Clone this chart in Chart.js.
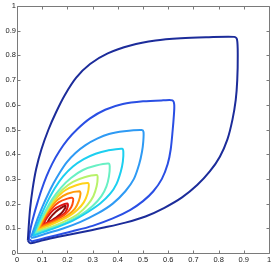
<!DOCTYPE html>
<html>
<head>
<meta charset="utf-8">
<script src="https://cdn.jsdelivr.net/npm/chart.js@4/dist/chart.umd.min.js"></script>
<style>
  body { margin: 0; background: #fff; }
  canvas { display: block; }
</style>
</head>
<body>
<canvas id="contornos" width="273" height="273"></canvas>
<script>
// niveles de contorno, de afuera hacia adentro (cada uno: tramo superior y luego tramo derecho)
const c1x = [0.043, 0.046, 0.052, 0.062, 0.076, 0.097, 0.125, 0.155, 0.190, 0.235, 0.290, 0.360, 0.450, 0.550, 0.650, 0.750, 0.862,
             0.873, 0.876, 0.874, 0.868, 0.855, 0.835, 0.805, 0.765, 0.715, 0.655, 0.585, 0.510, 0.430, 0.350, 0.270, 0.190, 0.120, 0.075, 0.052, 0.043];
const c1y = [0.050, 0.100, 0.180, 0.260, 0.340, 0.420, 0.500, 0.570, 0.640, 0.710, 0.765, 0.808, 0.840, 0.860, 0.869, 0.873, 0.875,
             0.865, 0.800, 0.700, 0.620, 0.540, 0.460, 0.390, 0.330, 0.275, 0.225, 0.183, 0.148, 0.123, 0.104, 0.087, 0.071, 0.056, 0.044, 0.040, 0.050];

const c2x = [0.047, 0.054, 0.066, 0.080, 0.097, 0.117, 0.140, 0.168, 0.200, 0.240, 0.290, 0.350, 0.420, 0.500, 0.580, 0.617,
             0.624, 0.622, 0.618, 0.610, 0.598, 0.575, 0.541, 0.500, 0.450, 0.380, 0.300, 0.220, 0.140, 0.090, 0.060, 0.047];
const c2y = [0.056, 0.100, 0.150, 0.200, 0.255, 0.310, 0.362, 0.412, 0.458, 0.502, 0.545, 0.580, 0.603, 0.614, 0.618, 0.618,
             0.600, 0.550, 0.500, 0.420, 0.360, 0.300, 0.250, 0.210, 0.175, 0.140, 0.110, 0.088, 0.068, 0.055, 0.048, 0.056];

const c3x = [0.055, 0.068, 0.084, 0.102, 0.122, 0.145, 0.170, 0.198, 0.232, 0.272, 0.318, 0.365, 0.425, 0.495,
             0.502, 0.501, 0.496, 0.485, 0.464, 0.430, 0.380, 0.320, 0.250, 0.180, 0.120, 0.080, 0.060, 0.055];
const c3y = [0.062, 0.100, 0.145, 0.190, 0.235, 0.282, 0.326, 0.368, 0.405, 0.437, 0.463, 0.482, 0.493, 0.498,
             0.490, 0.450, 0.410, 0.360, 0.300, 0.250, 0.200, 0.160, 0.125, 0.098, 0.080, 0.067, 0.062, 0.062];

const c4x = [0.062, 0.078, 0.098, 0.122, 0.150, 0.183, 0.222, 0.265, 0.312, 0.360, 0.417,
             0.422, 0.420, 0.412, 0.395, 0.370, 0.330, 0.280, 0.220, 0.160, 0.110, 0.080, 0.065, 0.062];
const c4y = [0.068, 0.110, 0.158, 0.210, 0.262, 0.310, 0.350, 0.380, 0.402, 0.415, 0.422,
             0.410, 0.370, 0.330, 0.280, 0.240, 0.200, 0.165, 0.130, 0.105, 0.087, 0.076, 0.070, 0.068];

const c5x = [0.068, 0.088, 0.112, 0.140, 0.174, 0.214, 0.262, 0.314, 0.363,
             0.368, 0.365, 0.355, 0.335, 0.300, 0.255, 0.200, 0.150, 0.105, 0.080, 0.068];
const c5y = [0.075, 0.120, 0.168, 0.218, 0.264, 0.304, 0.336, 0.354, 0.362,
             0.350, 0.310, 0.270, 0.230, 0.190, 0.155, 0.125, 0.105, 0.090, 0.082, 0.075];

const c6x = [0.073, 0.094, 0.118, 0.147, 0.181, 0.222, 0.268, 0.316,
             0.320, 0.316, 0.303, 0.280, 0.245, 0.200, 0.155, 0.110, 0.085, 0.073];
const c6y = [0.082, 0.128, 0.173, 0.218, 0.257, 0.288, 0.307, 0.316,
             0.305, 0.270, 0.230, 0.195, 0.160, 0.133, 0.113, 0.097, 0.089, 0.082];

const c7x = [0.080, 0.100, 0.125, 0.155, 0.190, 0.235, 0.281,
             0.285, 0.280, 0.265, 0.240, 0.205, 0.165, 0.125, 0.095, 0.080];
const c7y = [0.090, 0.135, 0.180, 0.220, 0.253, 0.274, 0.283,
             0.272, 0.240, 0.205, 0.175, 0.148, 0.128, 0.110, 0.098, 0.090];

const c8x = [0.088, 0.105, 0.130, 0.160, 0.200, 0.248,
             0.252, 0.245, 0.230, 0.200, 0.165, 0.130, 0.100, 0.088];
const c8y = [0.098, 0.140, 0.180, 0.215, 0.240, 0.250,
             0.240, 0.210, 0.180, 0.152, 0.133, 0.118, 0.105, 0.098];

const c9x = [0.095, 0.110, 0.135, 0.165, 0.200, 0.220,
             0.223, 0.215, 0.195, 0.165, 0.135, 0.105, 0.095];
const c9y = [0.105, 0.140, 0.177, 0.205, 0.220, 0.223,
             0.212, 0.185, 0.160, 0.140, 0.125, 0.112, 0.105];

const c10x = [0.103, 0.120, 0.145, 0.175, 0.200,
              0.202, 0.192, 0.170, 0.145, 0.115, 0.103];
const c10y = [0.113, 0.145, 0.175, 0.193, 0.200,
              0.190, 0.165, 0.148, 0.133, 0.120, 0.113];

const c11x = [0.115, 0.130, 0.155, 0.180, 0.193,
              0.190, 0.175, 0.150, 0.125, 0.115];
const c11y = [0.112, 0.140, 0.168, 0.186, 0.191,
              0.180, 0.160, 0.140, 0.122, 0.112];

const ticks_xy = [0, 0.1, 0.2, 0.3, 0.4, 0.5, 0.6, 0.7, 0.8, 0.9, 1];
const etiquetas = ['0', '0.1', '0.2', '0.3', '0.4', '0.5', '0.6', '0.7', '0.8', '0.9', '1'];

const colores = ['#1c2c9a', '#2a4fe4', '#2e9af4', '#1ccff0', '#68f0c4', '#b8f26a',
                 '#ffd21a', '#ff9a0a', '#ff4c10', '#dc1414', '#8e0c0c'];

const curvas = [[c1x, c1y], [c2x, c2y], [c3x, c3y], [c4x, c4y], [c5x, c5y], [c6x, c6y],
                [c7x, c7y], [c8x, c8y], [c9x, c9y], [c10x, c10y], [c11x, c11y]];

const datasets = curvas.map(function(c, i) {
  return {
    data: c[0].map(function(x, j) { return {x: x, y: c[1][j]}; }),
    showLine: true,
    borderColor: colores[i],
    borderWidth: 2,
    pointRadius: 0,
    tension: 0.3,
    fill: false
  };
});

// caja, marcas hacia adentro y etiquetas, estilo matlab
const cajaMarcas = {
  id: 'cajaMarcas',
  afterDraw: function(chart) {
    const ctx = chart.ctx;
    const a = chart.chartArea;
    const sx = chart.scales.x, sy = chart.scales.y;
    const L = Math.round(a.left) + 0.5, R = Math.round(a.right) + 0.5;
    const T = Math.round(a.top) + 0.5, B = Math.round(a.bottom) + 0.5;
    ctx.save();
    ctx.strokeStyle = '#7a7a7a';
    ctx.lineWidth = 1;
    ctx.beginPath();
    ctx.rect(L, T, R - L, B - T);
    ticks_xy.forEach(function(v) {
      const px = Math.round(sx.getPixelForValue(v)) + 0.5;
      ctx.moveTo(px, B); ctx.lineTo(px, B - 3);
      ctx.moveTo(px, T); ctx.lineTo(px, T + 3);
      const py = Math.round(sy.getPixelForValue(v)) + 0.5;
      ctx.moveTo(L, py); ctx.lineTo(L + 3, py);
      ctx.moveTo(R, py); ctx.lineTo(R - 3, py);
    });
    ctx.stroke();

    ctx.fillStyle = '#222';
    ctx.font = '7.5px "Liberation Sans"';
    ctx.textBaseline = 'middle';
    ctx.textAlign = 'center';
    ticks_xy.forEach(function(v, i) {
      ctx.fillText(etiquetas[i], sx.getPixelForValue(v), B + 6);
    });
    ctx.textAlign = 'right';
    ticks_xy.forEach(function(v, i) {
      ctx.fillText(etiquetas[i], L - 1.5, sy.getPixelForValue(v));
    });
    ctx.restore();
  }
};

const conf = {
  type: 'scatter',
  data: {datasets: datasets},
  options: {
    responsive: false,
    animation: false,
    layout: {padding: {left: 9, right: 4, top: 6, bottom: 12}},
    plugins: {legend: {display: false}, tooltip: {enabled: false}},
    scales: {
      x: {
        type: 'linear', min: 0, max: 1,
        grid: {display: false}, border: {display: false},
        ticks: {display: false}
      },
      y: {
        type: 'linear', min: 0, max: 1,
        grid: {display: false}, border: {display: false},
        ticks: {display: false}
      }
    }
  },
  plugins: [cajaMarcas]
};

new Chart(document.getElementById('contornos'), conf);
</script>
</body>
</html>
